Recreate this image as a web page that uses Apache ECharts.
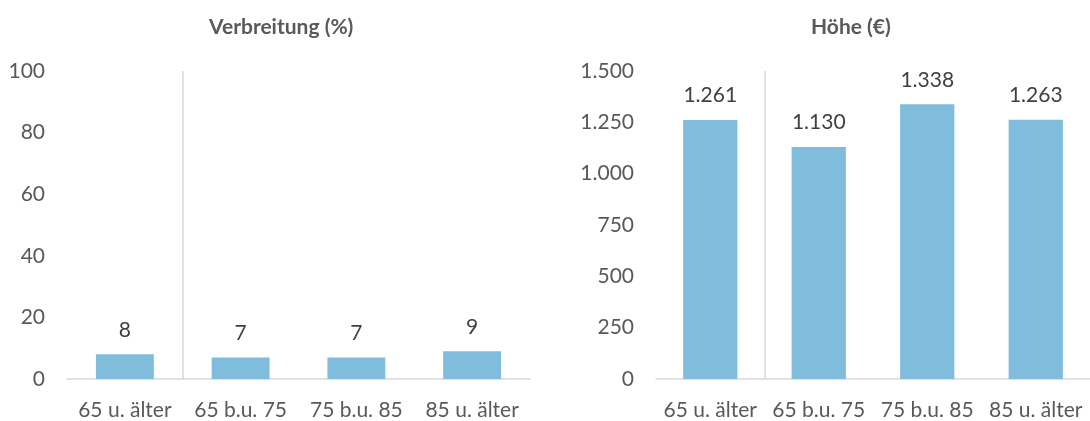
<!DOCTYPE html>
<html>
<head>
<meta charset="utf-8">
<script src="https://cdn.jsdelivr.net/npm/echarts@6/dist/echarts.min.js"></script>
<style>
  html, body { margin: 0; padding: 0; background: #fff; }
  #chart { width: 1090px; height: 421px; }
</style>
</head>
<body>
<div id="chart"></div>
<script>
const categories = ['65 u. älter', '65 b.u. 75', '75 b.u. 85', '85 u. älter']
const verbreitung = [8, 7, 7, 9]
const hoehe = [1261, 1130, 1338, 1263]
const verbreitungTicks = { min: 0, max: 100, interval: 20 }
const hoeheTicks = { min: 0, max: 1500, interval: 250 }
// Trennlinie nach der ersten Kategorie (Position auf einer 0..4 Hilfsachse)
const separatorAt = 1

const font = 'Lato, "Open Sans", sans-serif'
const barColor = '#80bcdb'
const labelColor = '#595959'

// deutsche Tausendertrennung
const fmt = v => String(v).replace(/\B(?=(\d{3})+(?!\d))/g, '.')

const chart = echarts.init(document.getElementById('chart'))

const catAxis = gridIndex => ({
  type: 'category',
  gridIndex,
  data: categories,
  axisLine: { lineStyle: { color: '#d9d9d9', width: 1.5 } },
  axisTick: { show: false },
  axisLabel: { color: labelColor, fontSize: 21, fontFamily: font, margin: 21, interval: 0 }
})

const helperAxis = gridIndex => ({
  type: 'value',
  gridIndex,
  min: 0,
  max: 4,
  show: false
})

const valAxis = (gridIndex, ticks) => ({
  type: 'value',
  gridIndex,
  min: ticks.min,
  max: ticks.max,
  interval: ticks.interval,
  axisLine: { show: false },
  axisTick: { show: false },
  splitLine: { show: false },
  axisLabel: { color: labelColor, fontSize: 21, fontFamily: font, margin: 22, formatter: fmt }
})

const barSeries = (idx, data) => ({
  type: 'bar',
  xAxisIndex: idx * 2,
  yAxisIndex: idx,
  data,
  barWidth: '50%',
  itemStyle: { color: barColor },
  label: {
    show: true,
    position: 'top',
    distance: 14,
    color: '#404040',
    fontSize: 21,
    fontFamily: font,
    formatter: p => fmt(p.value)
  }
})

const separator = idx => ({
  type: 'scatter',
  xAxisIndex: idx * 2 + 1,
  yAxisIndex: idx,
  data: [],
  silent: true,
  markLine: {
    silent: true,
    symbol: 'none',
    label: { show: false },
    lineStyle: { color: '#d9d9d9', width: 1.5, type: 'solid' },
    data: [{ xAxis: separatorAt }]
  }
})

const option = {
  animation: false,
  title: [
    { text: 'Verbreitung (%)', left: 204, top: 12,
      textStyle: { color: labelColor, fontSize: 21, fontWeight: 'bold', fontFamily: font } },
    { text: 'Höhe (€)', left: 806, top: 12,
      textStyle: { color: labelColor, fontSize: 21, fontWeight: 'bold', fontFamily: font } }
  ],
  grid: [
    { left: 67, right: 560, top: 71, bottom: 41 },
    { left: 656, right: -9, top: 71, bottom: 41 }
  ],
  xAxis: [catAxis(0), helperAxis(0), catAxis(1), helperAxis(1)],
  yAxis: [valAxis(0, verbreitungTicks), valAxis(1, hoeheTicks)],
  series: [
    barSeries(0, verbreitung),
    barSeries(1, hoehe),
    separator(0),
    separator(1)
  ]
}

chart.setOption(option)
window.addEventListener('resize', () => chart.resize())
</script>
</body>
</html>
